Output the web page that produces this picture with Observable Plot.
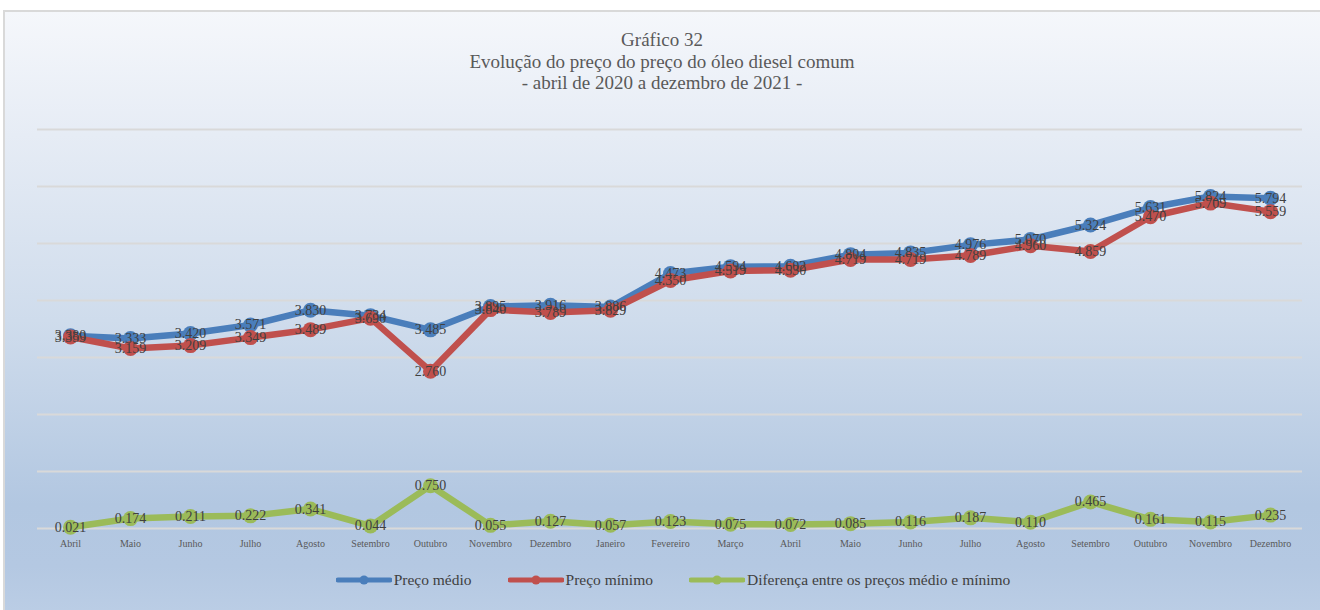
<!DOCTYPE html>
<html>
<head>
<meta charset="utf-8">
<script src="https://cdn.jsdelivr.net/npm/d3@7"></script>
<script src="https://cdn.jsdelivr.net/npm/@observablehq/plot@0.6"></script>
<style>
  html, body { margin: 0; padding: 0; background: #ffffff; }
  body { width: 1320px; height: 610px; overflow: hidden; position: relative; font-family: "Liberation Serif", "Times New Roman", serif; }
  #box { position: absolute; left: 3px; top: 10px; width: 1330px; height: 620px; box-sizing: border-box;
         border: 2px solid #d9d9d9;
         background: linear-gradient(to bottom, #f5f7fb 0%, #e6ecf5 20%, #cfdcec 50%, #b2c7e1 80%, #b4c8e2 90%, #bdcfe6 100%); }
  #title { position: absolute; left: 0; top: 29px; width: 1324px; text-align: center; color: #595959; font-size: 19px; line-height: 21.5px; }
  #chart { position: absolute; left: 0; top: 110px; }
  #legend { position: absolute; left: 0; top: 571px; width: 1346px; display: flex; justify-content: center; align-items: center; gap: 36px; color: #404040; font-size: 15.5px; }
  .item { display: flex; align-items: center; gap: 2px; }
  .item svg { display: block; }
</style>
</head>
<body>
<div id="box"></div>
<div id="title">Gráfico 32<br>Evolução do preço do preço do óleo diesel comum<br>- abril de 2020 a dezembro de 2021 -</div>
<div id="chart"></div>
<div id="legend"></div>
<script>
const months = ["Abril","Maio","Junho","Julho","Agosto","Setembro","Outubro","Novembro","Dezembro",
  "Janeiro","Fevereiro","Março","Abril","Maio","Junho","Julho","Agosto","Setembro","Outubro","Novembro","Dezembro"];
const precoMedio = [3.380,3.333,3.420,3.571,3.830,3.734,3.485,3.895,3.916,3.886,4.473,4.594,4.602,4.804,4.835,4.976,5.070,5.324,5.631,5.824,5.794];
const precoMinimo = [3.359,3.159,3.209,3.349,3.489,3.690,2.760,3.840,3.789,3.829,4.350,4.519,4.530,4.719,4.719,4.789,4.960,4.859,5.470,5.709,5.559];
const diferenca = [0.021,0.174,0.211,0.222,0.341,0.044,0.750,0.055,0.127,0.057,0.123,0.075,0.072,0.085,0.116,0.187,0.110,0.465,0.161,0.115,0.235];
const gridValues = [0,1,2,3,4,5,6,7];

const seriesNames = ["Preço médio","Preço mínimo","Diferença entre os preços médio e mínimo"];
const seriesColors = ["#4a7ebb","#c0504d","#9bbb59"];

const idx = d3.range(months.length);
const fmt = d3.format(".3f");

function seriesMarks(values, color) {
  return [
    Plot.line(idx, {x: i => i, y: i => values[i], stroke: color, strokeWidth: 6.5, strokeLinejoin: "round"}),
    Plot.dot(idx, {x: i => i, y: i => values[i], r: 7.5, fill: color, stroke: null})
  ];
}
function labelMarks(values) {
  return Plot.text(idx, {x: i => i, y: i => values[i], text: i => fmt(values[i]), fontSize: 14, fill: "#404040", textAnchor: "middle", lineAnchor: "middle"});
}

const chart = Plot.plot({
  width: 1320,
  height: 450,
  marginLeft: 37,
  marginRight: 18,
  marginTop: 19,
  marginBottom: 32,
  style: {background: "transparent", fontFamily: "'Liberation Serif', serif", overflow: "visible"},
  x: {type: "point", domain: idx, padding: 0.5},
  y: {domain: [0, 7]},
  marks: [
    Plot.ruleY(gridValues, {stroke: "#d9d9d9", strokeWidth: 2}),
    Plot.axisX({tickSize: 0, tickPadding: 11, fontSize: 10, fill: "#595959", tickFormat: i => months[i], label: null}),
    Plot.axisY({ticks: [], label: null}),
    ...seriesMarks(diferenca, seriesColors[2]),
    ...seriesMarks(precoMedio, seriesColors[0]),
    ...seriesMarks(precoMinimo, seriesColors[1]),
    labelMarks(diferenca),
    labelMarks(precoMedio),
    labelMarks(precoMinimo)
  ]
});
document.getElementById("chart").appendChild(chart);

const legend = document.getElementById("legend");
seriesNames.forEach((name, k) => {
  const item = document.createElement("div");
  item.className = "item";
  item.innerHTML = `<svg width="56" height="12"><line x1="2" x2="54" y1="6" y2="6" stroke="${seriesColors[k]}" stroke-width="5" stroke-linecap="round"/><circle cx="28" cy="6" r="4.5" fill="${seriesColors[k]}"/></svg><span>${name}</span>`;
  legend.appendChild(item);
});
</script>
</body>
</html>
